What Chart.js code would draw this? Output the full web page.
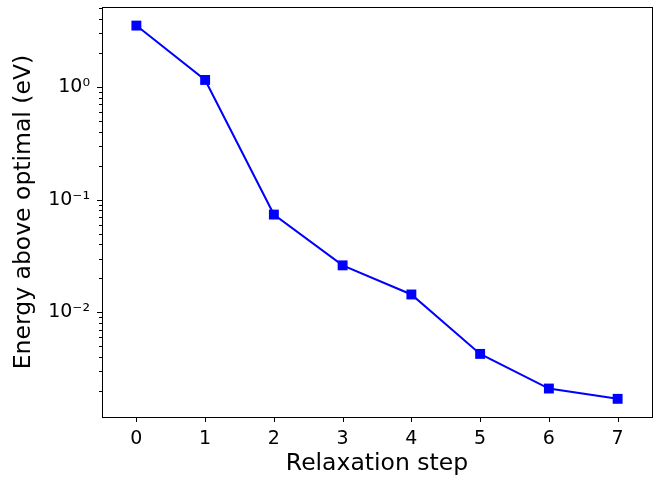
<!DOCTYPE html>
<html>
<head>
<meta charset="utf-8">
<script src="https://cdn.jsdelivr.net/npm/chart.js@4/dist/chart.umd.min.js"></script>
<style>
  html, body { margin: 0; padding: 0; background: #fff; }
  #wrap { width: 659px; height: 478px; }
</style>
</head>
<body>
<div id="wrap"><canvas id="myChart" width="659" height="478"></canvas></div>
<script>
// valores
const steps = [0, 1, 2, 3, 4, 5, 6, 7];
const energy = [3.49, 1.15, 0.0736, 0.0261, 0.0144, 0.00428, 0.00211, 0.00171];
const xTicks = [0, 1, 2, 3, 4, 5, 6, 7];
const decades = [-3, -2, -1, 0];
const supers = { "0": "\u2070", "1": "\u00b9", "2": "\u00b2", "3": "\u00b3", "-": "\u207b" };

const yMin = 0.00118;
const yMax = 5.1;

function superscript(n) {
  return String(n).split("").map((c) => supers[c]).join("");
}

// marcas de escala no estilo matplotlib (maiores e menores) + moldura
const axisBox = {
  id: "axisBox",
  afterDraw(chart) {
    const { ctx, chartArea: a, scales } = chart;
    ctx.save();
    ctx.strokeStyle = "#000";
    ctx.lineWidth = 1;
    ctx.strokeRect(Math.round(a.left) + 0.5, Math.round(a.top) + 0.5,
      Math.round(a.right - a.left), Math.round(a.bottom - a.top));
    ctx.beginPath();
    scales.x.ticks.forEach((t) => {
      const px = Math.round(scales.x.getPixelForValue(t.value)) + 0.5;
      ctx.moveTo(px, a.bottom);
      ctx.lineTo(px, a.bottom + 5);
    });
    scales.y.ticks.forEach((t) => {
      const py = Math.round(scales.y.getPixelForValue(t.value)) + 0.5;
      const len = t.major ? 5 : 3;
      ctx.moveTo(a.left, py);
      ctx.lineTo(a.left - len, py);
    });
    ctx.stroke();
    ctx.restore();
  },
};

const ctx = document.getElementById("myChart");

new Chart(ctx, {
  type: "line",
  data: {
    datasets: [
      {
        data: steps.map((s, i) => ({ x: s, y: energy[i] })),
        borderColor: "#0000ff",
        backgroundColor: "#0000ff",
        borderWidth: 2,
        pointStyle: "rect",
        pointRadius: 7,
        pointBorderWidth: 0,
        tension: 0,
      },
    ],
  },
  options: {
    responsive: false,
    animation: false,
    layout: { padding: { top: 5, right: 5, left: 0, bottom: 0 } },
    plugins: { legend: { display: false }, tooltip: { enabled: false } },
    scales: {
      x: {
        type: "linear",
        min: -0.5,
        max: 7.5,
        afterBuildTicks: (scale) => {
          scale.ticks = xTicks.map((v) => ({ value: v }));
        },
        afterFit: (scale) => {
          scale.height = 61;
          scale.paddingLeft = 0;
          scale.paddingRight = 0;
        },
        grid: { drawOnChartArea: false, drawTicks: true, tickLength: 5, tickColor: "rgba(0,0,0,0)" },
        border: { display: false },
        ticks: {
          color: "#000",
          padding: 6,
          font: { family: "DejaVu Sans", size: 19 },
          callback: (v) => String(v),
        },
        title: {
          display: true,
          text: "Relaxation step",
          color: "#000",
          font: { family: "DejaVu Sans", size: 23.5 },
          padding: { top: 0, bottom: 0 },
        },
      },
      y: {
        type: "logarithmic",
        min: yMin,
        max: yMax,
        afterBuildTicks: (scale) => {
          const ticks = [];
          decades.forEach((d) => {
            for (let m = 1; m <= 9; m++) {
              const v = m * Math.pow(10, d);
              if (v >= yMin && v <= yMax) ticks.push({ value: v, major: m === 1 });
            }
          });
          scale.ticks = ticks;
        },
        afterFit: (scale) => {
          scale.width = 102;
          scale.paddingTop = 0;
          scale.paddingBottom = 0;
        },
        grid: { drawOnChartArea: false, drawTicks: true, tickLength: 5, tickColor: "rgba(0,0,0,0)" },
        border: { display: false },
        ticks: {
          color: "#000",
          padding: 7,
          autoSkip: false,
          font: { family: "DejaVu Sans", size: 19 },
          callback: function (v) {
            const d = Math.round(Math.log10(v));
            if (Math.abs(v / Math.pow(10, d) - 1) < 1e-6) return "10" + superscript(d);
            return "";
          },
        },
        title: {
          display: true,
          text: "Energy above optimal (eV)",
          color: "#000",
          font: { family: "DejaVu Sans", size: 23.5 },
          padding: { top: 10, bottom: 0 },
        },
      },
    },
  },
  plugins: [axisBox],
});
</script>
</body>
</html>
